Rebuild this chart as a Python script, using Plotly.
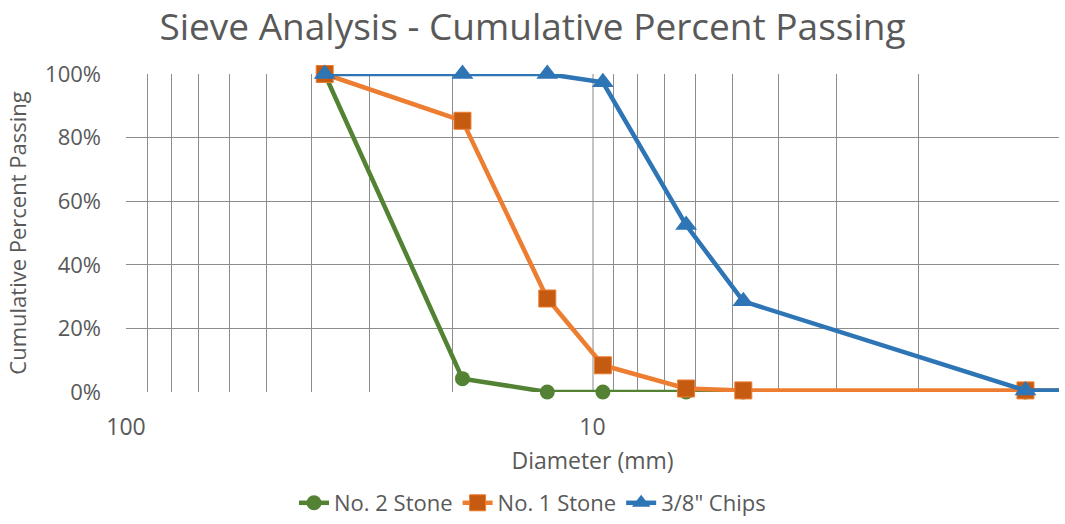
import plotly.graph_objects as go

# Sieve opening sizes (mm) and cumulative percent passing for each material
sieve_mm = [37.5, 19.0, 12.5, 9.5, 6.3, 4.75, 1.18, 0.6]
no2_stone = [100, 4.2, 0, 0, 0, 0, 0, 0]
no1_stone = [100, 85.3, 29.4, 8.4, 1.1, 0.5, 0.5, 0.5]
chips_38 = [100, 100, 100, 97.4, 52.5, 28.5, 0.5, 0.5]

series_names = ["No. 2 Stone", "No. 1 Stone", '3/8" Chips']

x_major = [1, 10, 100]
x_major_text = ["1", "10", "100"]
x_minor = [2, 3, 4, 5, 6, 7, 8, 9, 20, 30, 40, 50, 60, 70, 80, 90]

FONT = "Open Sans"
TXT = "#595959"

fig = go.Figure()
fig.add_trace(go.Scatter(
    x=sieve_mm, y=no2_stone, name=series_names[0], mode="lines+markers",
    cliponaxis=False,
    line=dict(color="#548235", width=4.5),
    marker=dict(symbol="circle", size=15, color="#548235"),
))
fig.add_trace(go.Scatter(
    x=sieve_mm, y=no1_stone, name=series_names[1], mode="lines+markers",
    cliponaxis=False,
    line=dict(color="#ED7D31", width=4.5),
    marker=dict(symbol="square", size=17, color="#C55A11",
                line=dict(color="#ED7D31", width=1)),
))
fig.add_trace(go.Scatter(
    x=sieve_mm, y=chips_38, name=series_names[2], mode="lines+markers",
    cliponaxis=False,
    line=dict(color="#2E75B6", width=4.5),
    marker=dict(symbol="triangle-up", size=19, color="#2E75B6"),
))

fig.update_layout(
    width=1065, height=524,
    margin=dict(l=126, r=6, t=74, b=132, autoexpand=False),
    paper_bgcolor="white", plot_bgcolor="white",
    font=dict(family=FONT, color=TXT),
    title=dict(text="Sieve Analysis - Cumulative Percent Passing",
               x=0.5, xanchor="center", y=1 - 27 / 524, yanchor="middle",
               font=dict(size=37, color=TXT, family=FONT)),
    showlegend=True,
    legend=dict(orientation="h", xref="container", x=0.5, xanchor="center",
                yref="container", y=0, yanchor="bottom",
                font=dict(size=22, color=TXT, family=FONT),
                itemwidth=30, tracegroupgap=0),
    xaxis=dict(
        type="log", range=[2, 0], automargin=False,
        tickmode="array", tickvals=x_major, ticktext=x_major_text,
        tickfont=dict(size=23, color=TXT),
        ticklabelstandoff=19,
        showgrid=True, gridcolor="#c4c4c4", gridwidth=1.5,
        minor=dict(tickmode="array", tickvals=x_minor, showgrid=True,
                   gridcolor="#8c8c8c", gridwidth=1),
        showline=False, zeroline=False, ticks="",
        title=dict(text="Diameter (mm)", font=dict(size=23, color=TXT),
                   standoff=11),
    ),
    yaxis=dict(
        range=[0, 100], tickmode="linear", tick0=0, dtick=20,
        ticksuffix="%", tickfont=dict(size=22, color=TXT),
        ticklabelstandoff=24, automargin=False,
        showgrid=True, gridcolor="#8c8c8c", gridwidth=1,
        showline=False, zeroline=False, ticks="",
        title=dict(text="Cumulative Percent Passing",
                   font=dict(size=22, color=TXT), standoff=12),
    ),
)

fig.write_html("out.html")
